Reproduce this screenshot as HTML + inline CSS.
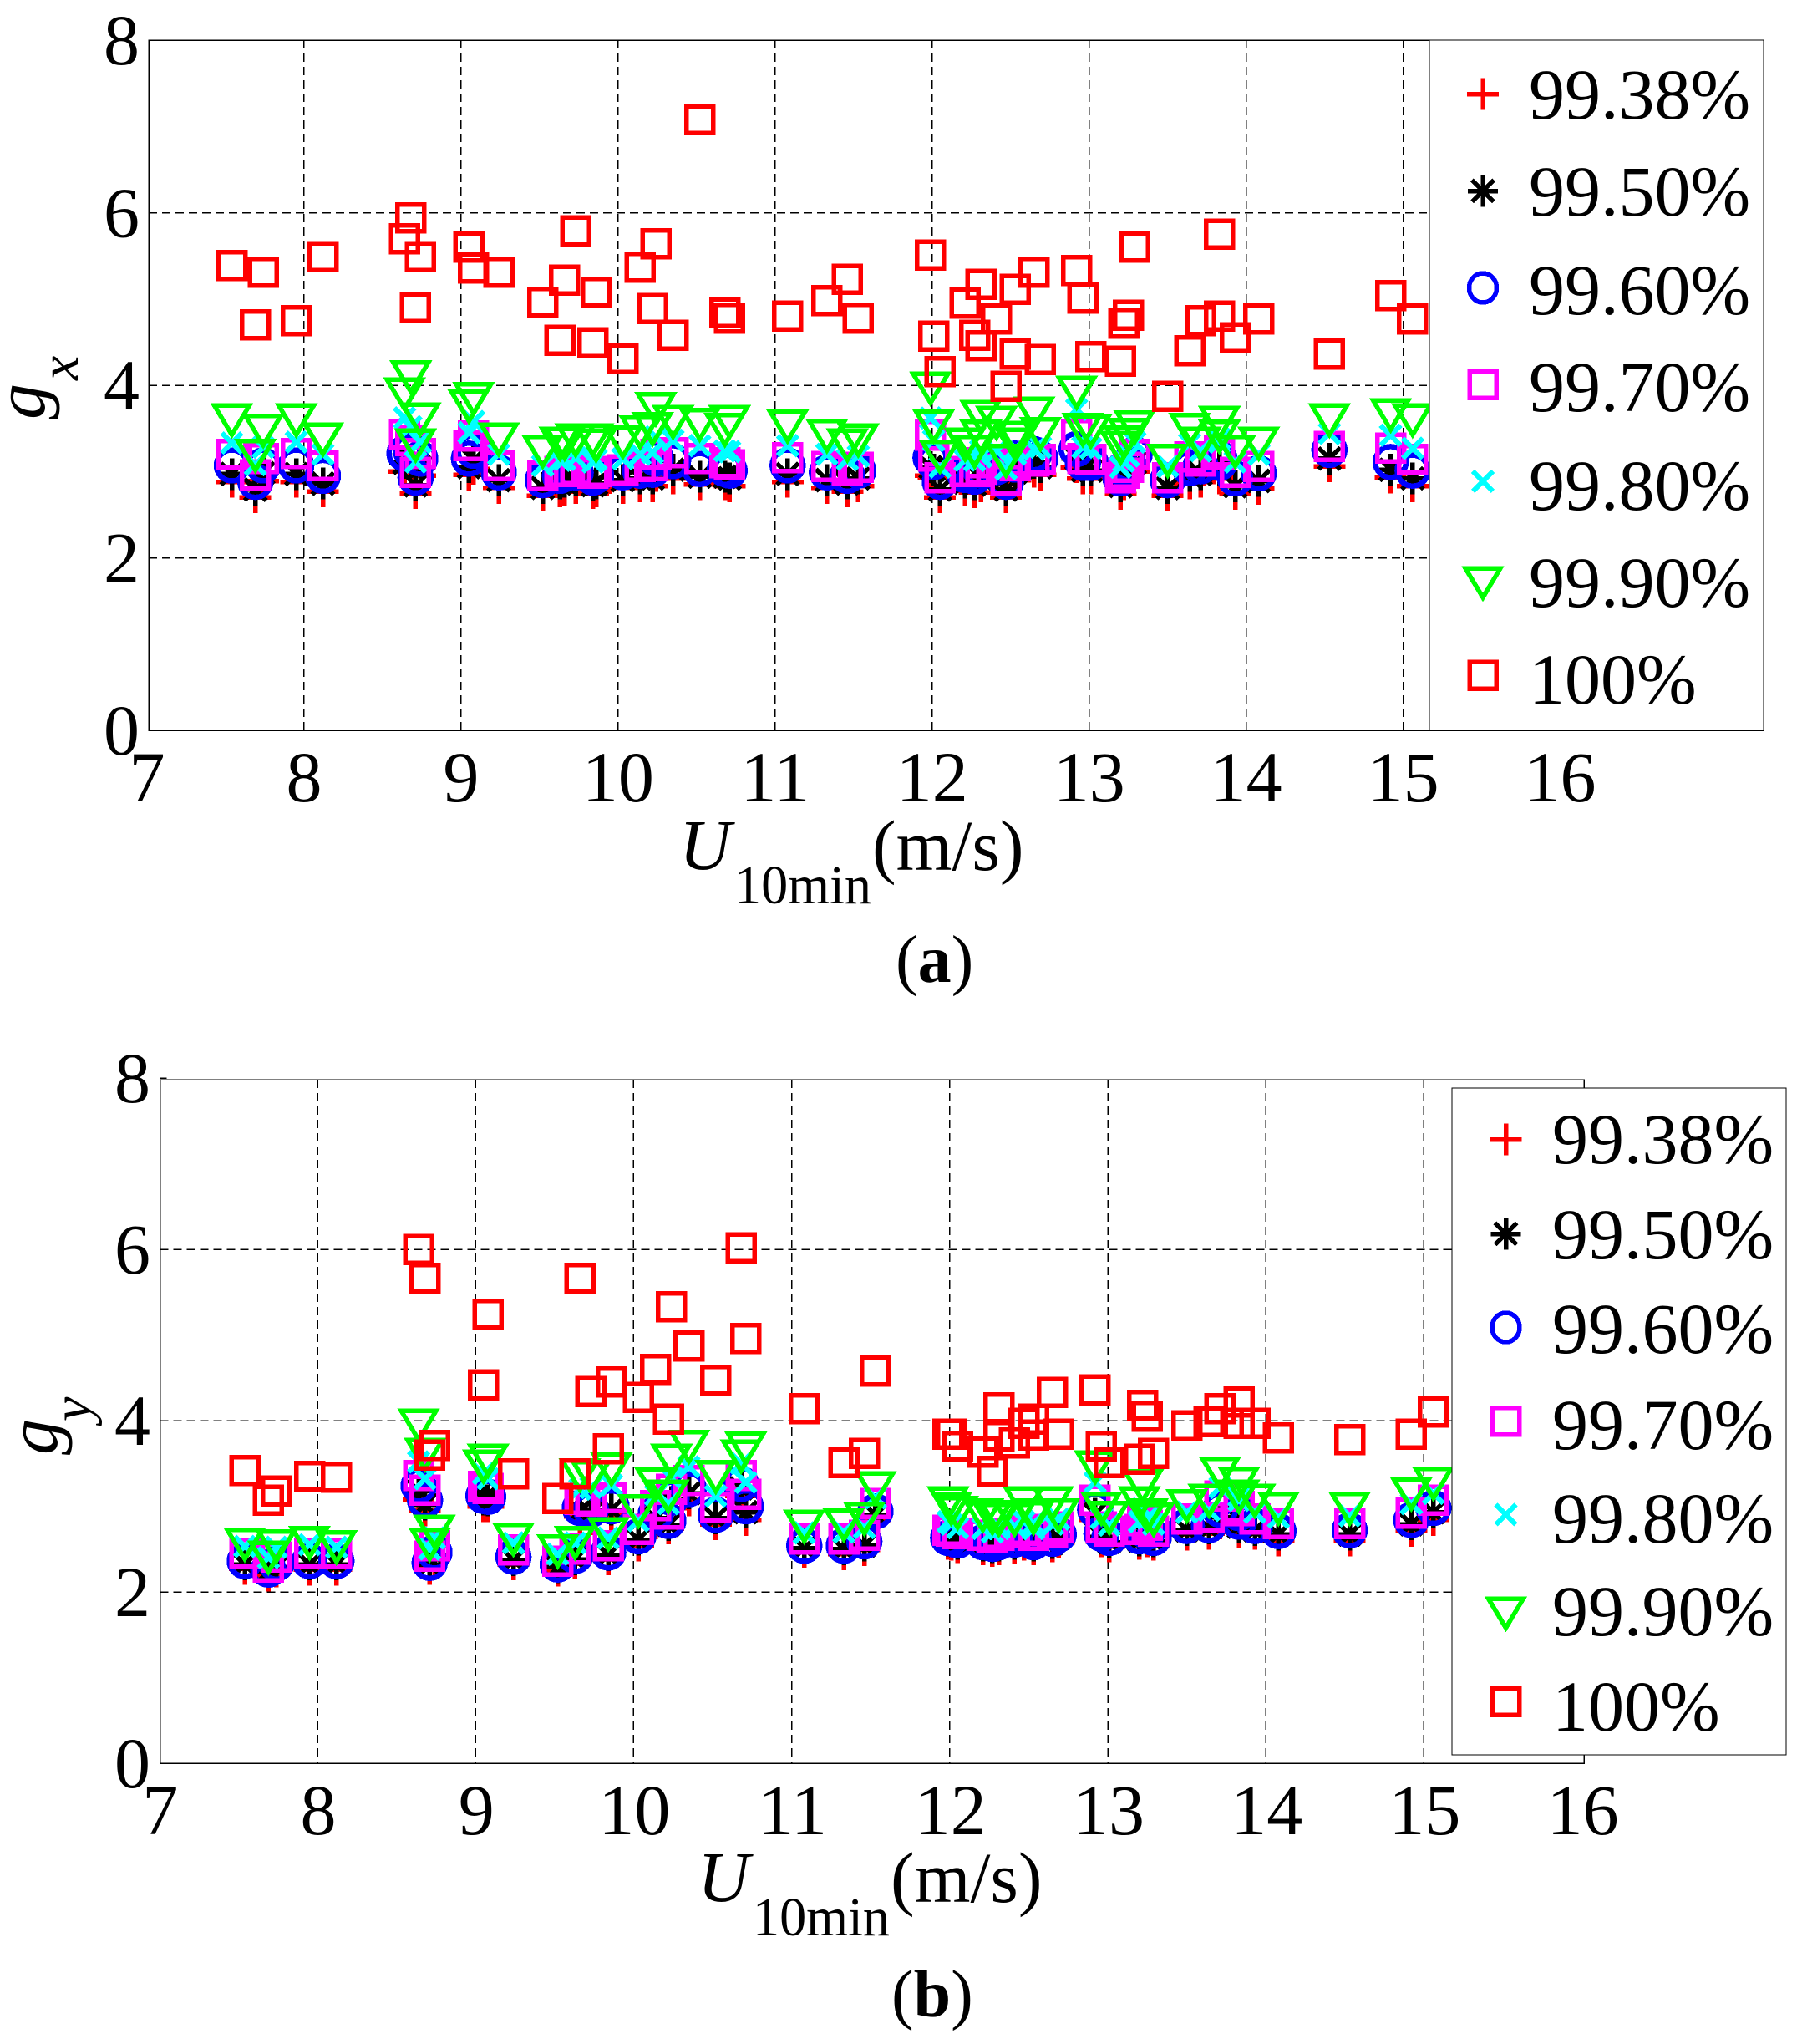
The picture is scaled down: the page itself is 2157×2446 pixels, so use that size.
<!DOCTYPE html>
<html lang="en">
<head>
<meta charset="utf-8">
<title>Gust factor versus 10-minute mean wind speed</title>
<style>
html,body{margin:0;padding:0;background:#fff}
svg{display:block}
text{font-family:"Liberation Serif",serif;fill:#000}
.mark,.grid,.frame{shape-rendering:crispEdges}
</style>
</head>
<body>
<svg id="figure" xmlns="http://www.w3.org/2000/svg" width="2157" height="2446" viewBox="0 0 2157 2446">
  <rect x="0" y="0" width="2157" height="2446" fill="#fff"/>
  <g id="panelA"></g>
  <g id="panelB"></g>

  <g>
    <text transform="translate(53,502) rotate(-90)" font-size="86" font-style="italic">g</text>
    <text transform="translate(93,455) rotate(-90)" font-size="66" font-style="italic">x</text>
  </g>
  <g>
    <text x="813" y="1040" font-size="86" font-style="italic">U</text>
    <text x="879" y="1081" font-size="66" textLength="164" lengthAdjust="spacingAndGlyphs">10min</text>
    <text x="1044" y="1041" font-size="86">(m/s)</text>
  </g>
  <text x="1072" y="1175" font-size="80">(<tspan font-weight="bold">a</tspan>)</text>

  <g>
    <text transform="translate(68,1741) rotate(-90)" font-size="86" font-style="italic">g</text>
    <text transform="translate(108,1701) rotate(-90)" font-size="66" font-style="italic">y</text>
  </g>
  <g>
    <text x="835" y="2275" font-size="86" font-style="italic">U</text>
    <text x="901" y="2316" font-size="66" textLength="164" lengthAdjust="spacingAndGlyphs">10min</text>
    <text x="1066" y="2276" font-size="86">(m/s)</text>
  </g>
  <text x="1067" y="2413" font-size="80">(<tspan font-weight="bold">b</tspan>)</text>
</svg>

<script>
var windSpeeds = [7.54,7.69,7.74,7.95,8.12,8.64,8.68,8.71,8.74,9.05,9.08,9.24,9.52,9.63,9.66,9.73,9.84,9.86,10.03,10.14,10.22,10.24,10.35,10.52,10.68,10.71,11.08,11.33,11.46,11.53,11.99,12.01,12.05,12.21,12.27,12.31,12.31,12.41,12.47,12.53,12.53,12.65,12.69,12.92,12.96,13.01,13.20,13.22,13.25,13.29,13.50,13.64,13.71,13.83,13.83,13.93,14.08,14.53,14.92,15.06];

var gxP9938 = [2.88,2.70,2.89,2.88,2.77,3.00,3.02,2.75,2.95,2.96,3.03,2.81,2.72,2.77,2.79,2.81,2.75,2.77,2.81,2.83,2.83,2.95,2.92,2.85,2.85,2.83,2.88,2.81,2.77,2.83,2.95,2.93,2.70,2.78,2.76,2.83,2.85,2.85,2.70,2.95,2.90,3.00,2.96,3.05,2.92,2.92,2.74,2.85,2.90,3.00,2.72,2.86,2.88,2.96,2.92,2.74,2.80,3.06,2.93,2.83];
var gxP9950 = [2.97,2.79,2.98,2.97,2.86,3.10,3.12,2.84,3.05,3.05,3.13,2.90,2.81,2.86,2.88,2.90,2.84,2.86,2.90,2.92,2.92,3.05,3.02,2.94,2.94,2.92,2.97,2.90,2.86,2.92,3.05,3.02,2.79,2.87,2.85,2.92,2.94,2.95,2.79,3.05,2.99,3.10,3.05,3.15,3.01,3.01,2.83,2.94,2.99,3.10,2.81,2.95,2.97,3.05,3.01,2.83,2.89,3.15,3.02,2.92];
var gxP9960 = [3.07,2.88,3.07,3.07,2.95,3.21,3.24,2.93,3.15,3.15,3.24,2.99,2.90,2.95,2.97,2.99,2.93,2.95,2.99,3.01,3.02,3.15,3.12,3.03,3.03,3.01,3.07,2.99,2.95,3.01,3.16,3.11,2.88,2.96,2.94,3.01,3.03,3.05,2.88,3.15,3.08,3.20,3.15,3.26,3.10,3.10,2.92,3.03,3.08,3.20,2.90,3.04,3.06,3.15,3.10,2.92,2.98,3.25,3.11,3.01];
var gxP9970 = [3.20,2.96,3.15,3.21,3.07,3.43,3.36,2.99,3.21,3.30,3.41,3.07,2.95,3.00,3.00,3.02,2.98,3.00,3.02,3.06,3.07,3.20,3.22,3.15,3.10,3.08,3.16,3.06,3.02,3.05,3.42,3.18,2.93,3.00,3.00,3.03,3.10,3.10,2.90,3.07,3.13,3.12,3.14,3.43,3.15,3.14,2.93,2.98,3.05,3.20,2.93,3.17,3.12,3.24,3.20,2.99,3.06,3.29,3.27,3.14];
var gxP9980 = [3.33,3.08,3.28,3.34,3.20,3.62,3.52,3.11,3.34,3.45,3.58,3.20,3.07,3.13,3.14,3.16,3.11,3.14,3.15,3.20,3.22,3.40,3.36,3.30,3.24,3.23,3.30,3.20,3.14,3.18,3.62,3.36,3.05,3.13,3.13,3.17,3.24,3.24,3.03,3.20,3.27,3.26,3.28,3.72,3.28,3.27,3.05,3.12,3.18,3.34,3.06,3.32,3.24,3.38,3.34,3.11,3.20,3.44,3.42,3.27];
var gxP9990 = [3.60,3.19,3.48,3.60,3.38,3.90,4.10,3.31,3.61,3.76,3.85,3.38,3.24,3.33,3.33,3.37,3.37,3.31,3.35,3.46,3.50,3.73,3.58,3.55,3.49,3.58,3.53,3.42,3.31,3.37,3.97,3.53,3.18,3.32,3.24,3.64,3.41,3.57,3.13,3.40,3.32,3.68,3.44,3.92,3.49,3.47,3.28,3.35,3.43,3.52,3.13,3.49,3.33,3.57,3.41,3.24,3.33,3.60,3.66,3.60];
var gxP100 = [5.39,4.70,5.31,4.75,5.49,5.70,5.94,4.90,5.49,5.60,5.36,5.31,4.96,4.52,5.22,5.79,4.49,5.08,4.31,5.37,4.89,5.64,4.58,7.08,4.84,4.78,4.80,4.98,5.23,4.78,5.51,4.57,4.16,4.95,4.58,4.46,5.17,4.77,3.99,5.11,4.36,5.31,4.30,5.33,5.01,4.33,4.28,4.72,4.81,5.60,3.87,4.40,4.75,4.80,5.75,4.55,4.77,4.36,5.04,4.77];

var gyP9938 = [2.27,2.19,2.24,2.26,2.26,3.08,2.95,2.27,2.38,3.00,3.00,2.32,2.25,2.33,2.88,2.85,2.38,2.90,2.54,2.80,2.74,2.98,3.07,2.79,3.12,2.84,2.47,2.44,2.49,2.84,2.56,2.55,2.52,2.50,2.48,2.52,2.50,2.51,2.55,2.50,2.54,2.53,2.58,2.84,2.59,2.53,2.56,2.63,2.59,2.55,2.67,2.68,2.80,2.70,2.78,2.68,2.60,2.60,2.71,2.84];
var gyP9950 = [2.32,2.24,2.29,2.32,2.32,3.18,3.02,2.32,2.43,3.08,3.07,2.37,2.29,2.38,2.94,2.92,2.43,2.96,2.61,2.86,2.78,3.05,3.15,2.86,3.21,2.93,2.51,2.50,2.54,2.90,2.60,2.59,2.56,2.54,2.52,2.56,2.54,2.56,2.60,2.54,2.59,2.57,2.63,2.91,2.64,2.58,2.60,2.70,2.65,2.59,2.72,2.74,2.87,2.76,2.84,2.72,2.67,2.67,2.79,2.93];
var gyP9960 = [2.36,2.26,2.33,2.36,2.36,3.24,3.07,2.34,2.46,3.12,3.11,2.41,2.32,2.42,2.98,2.96,2.46,3.00,2.65,2.91,2.83,3.10,3.20,2.90,3.26,3.00,2.54,2.54,2.59,2.94,2.63,2.63,2.60,2.58,2.56,2.60,2.58,2.61,2.65,2.58,2.64,2.62,2.67,2.96,2.68,2.63,2.65,2.75,2.70,2.63,2.77,2.78,2.96,2.82,2.92,2.77,2.71,2.72,2.84,2.98];
var gyP9970 = [2.45,2.29,2.41,2.45,2.45,3.36,3.19,2.42,2.54,3.23,3.21,2.49,2.36,2.50,3.08,3.06,2.54,3.10,2.73,3.01,2.91,3.20,3.30,2.99,3.36,3.14,2.62,2.62,2.66,3.03,2.72,2.71,2.68,2.66,2.63,2.68,2.66,2.69,2.73,2.66,2.72,2.70,2.76,3.07,2.76,2.71,2.73,2.83,2.78,2.71,2.85,2.87,3.12,2.95,3.00,2.85,2.80,2.80,2.92,3.07];
var gyP9980 = [2.53,2.40,2.52,2.55,2.52,3.52,3.32,2.50,2.63,3.38,3.32,2.57,2.44,2.57,3.20,3.22,2.63,3.25,2.83,3.13,3.03,3.33,3.46,3.12,3.50,3.28,2.69,2.70,2.75,3.10,2.82,2.79,2.75,2.74,2.70,2.76,2.74,2.77,2.82,2.74,2.80,2.79,2.85,3.28,2.86,2.78,2.82,2.97,2.86,2.79,2.93,2.95,3.22,3.07,3.12,2.93,2.87,2.89,3.03,3.15];
var gyP9990 = [2.56,2.41,2.54,2.58,2.53,3.95,3.61,2.56,2.71,3.47,3.54,2.62,2.48,2.58,3.37,3.35,2.68,3.44,2.95,3.26,3.12,3.54,3.70,3.35,3.59,3.68,2.77,2.79,2.86,3.22,3.04,2.98,2.93,2.90,2.87,2.85,2.88,2.85,3.04,2.90,2.87,3.04,2.90,3.46,2.98,2.87,3.04,3.24,2.90,2.85,3.01,3.07,3.39,3.27,3.12,3.07,2.98,2.98,3.15,3.27];
var gyP100 = [3.42,3.07,3.18,3.35,3.34,6.00,5.66,3.60,3.71,4.42,5.24,3.38,3.09,3.38,5.66,4.34,3.67,4.45,4.27,4.60,4.02,5.33,4.87,4.47,6.02,4.96,4.14,3.51,3.62,4.58,3.84,3.84,3.70,3.63,3.41,4.15,3.82,3.74,3.97,4.02,3.83,4.33,3.84,4.36,3.70,3.51,3.55,4.18,4.05,3.62,3.94,3.99,4.14,4.22,3.97,3.97,3.80,3.78,3.84,4.10];

var xTickLabels = [7,8,9,10,11,12,13,14,15,16];
var yTickLabels = [0,2,4,6,8];
var legendLabels = ['99.38%','99.50%','99.60%','99.70%','99.80%','99.90%','100%'];
var seriesKeys = ['plus','star','circle','magenta','cross','triangle','redsquare'];

var NS = 'http://www.w3.org/2000/svg';

function node(parent, tag, attrs) {
  var el = document.createElementNS(NS, tag);
  for (var k in attrs) { el.setAttribute(k, attrs[k]); }
  parent.appendChild(el);
  return el;
}

function drawMarker(parent, kind, cx, cy, name, inLegend) {
  var g = document.createElementNS(NS, 'g');
  
  
  g.setAttribute('class', 'mark');
  g.setAttribute('transform', 'translate(' + cx.toFixed(1) + ',' + cy.toFixed(1) + ')');
  parent.appendChild(g);
  if (kind === 'plus') {
    node(g, 'path', {d: 'M-19 0H19M0 -19V19', stroke: '#ff0000', 'stroke-width': 5.5, fill: 'none'});
  } else if (kind === 'star') {
    node(g, 'path', {d: 'M-18 0H18M0 -19V19M-13 -13L13 13M-13 13L13 -13', stroke: '#000', 'stroke-width': 5.5, fill: 'none'});
  } else if (kind === 'circle') {
    node(g, 'ellipse', {cx: 0, cy: 0, rx: inLegend ? 16.5 : 18.5, ry: inLegend ? 17.5 : 18.5, stroke: '#0000ff', 'stroke-width': inLegend ? 5.5 : 6.5, fill: 'none'});
  } else if (kind === 'magenta') {
    node(g, 'rect', {x: -16, y: -16, width: 32, height: 32, stroke: '#ff00ff', 'stroke-width': 5.5, fill: 'none'});
  } else if (kind === 'cross') {
    node(g, 'path', {d: 'M-12 -12L12 12M-12 12L12 -12', stroke: '#00ffff', 'stroke-width': 6, fill: 'none'});
  } else if (kind === 'triangle') {
    node(g, 'polygon', {points: '-21,-17 21,-17 0,18', stroke: '#00ff00', 'stroke-width': 5.5, fill: 'none'});
  } else {
    node(g, 'rect', {x: -16, y: -16, width: 32, height: 32, stroke: '#ff0000', 'stroke-width': 5.5, fill: 'none'});
  }
}

function drawPanel(root, p, series, id) {
  function xAxis(v) { return p.x7 + (v - 7) * p.xUnit; }
  function yAxis(v) { return p.y0 - v * p.yUnit; }

  var i, gridLine, tick, label;
  for (i = 1; i < yTickLabels.length - 1; i++) {
    gridLine = document.createElementNS(NS, 'line');
    
    
    gridLine.setAttribute('class', 'grid');
    gridLine.setAttribute('x1', p.left);
    gridLine.setAttribute('x2', p.legendLeft);
    gridLine.setAttribute('y1', yAxis(yTickLabels[i]));
    gridLine.setAttribute('y2', yAxis(yTickLabels[i]));
    gridLine.setAttribute('stroke', '#000');
    gridLine.setAttribute('stroke-width', '1.5');
    gridLine.setAttribute('stroke-dasharray', '10 6');
    root.appendChild(gridLine);
  }
  for (i = 1; i < xTickLabels.length - 1; i++) {
    gridLine = document.createElementNS(NS, 'line');
    
    
    gridLine.setAttribute('class', 'grid');
    gridLine.setAttribute('x1', xAxis(xTickLabels[i]));
    gridLine.setAttribute('x2', xAxis(xTickLabels[i]));
    gridLine.setAttribute('y1', p.top);
    gridLine.setAttribute('y2', p.y0);
    gridLine.setAttribute('stroke', '#000');
    gridLine.setAttribute('stroke-width', '1.5');
    gridLine.setAttribute('stroke-dasharray', '10 6');
    root.appendChild(gridLine);
  }

  var frame = document.createElementNS(NS, 'rect');
  
  
  frame.setAttribute('class', 'frame');
  frame.setAttribute('x', p.left);
  frame.setAttribute('y', p.top);
  frame.setAttribute('width', p.right - p.left);
  frame.setAttribute('height', p.y0 - p.top);
  frame.setAttribute('fill', 'none');
  frame.setAttribute('stroke', '#000');
  frame.setAttribute('stroke-width', '1.5');
  root.appendChild(frame);

  for (i = 0; i < yTickLabels.length; i++) {
    tick = document.createElementNS(NS, 'line');
    
    
    tick.setAttribute('class', 'frame');
    tick.setAttribute('x1', p.left);
    tick.setAttribute('x2', p.left + 8);
    tick.setAttribute('y1', yAxis(yTickLabels[i]));
    tick.setAttribute('y2', yAxis(yTickLabels[i]));
    tick.setAttribute('stroke', '#000');
    tick.setAttribute('stroke-width', '1.5');
    root.appendChild(tick);

    label = document.createElementNS(NS, 'text');
    
    
    label.setAttribute('x', p.yLabelRight);
    label.setAttribute('y', yAxis(yTickLabels[i]) + 29);
    label.setAttribute('font-size', '86');
    label.setAttribute('text-anchor', 'end');
    label.textContent = yTickLabels[i];
    root.appendChild(label);
  }

  for (i = 0; i < xTickLabels.length; i++) {
    label = document.createElementNS(NS, 'text');
    
    
    label.setAttribute('x', xAxis(xTickLabels[i]) + p.xLabelShift);
    label.setAttribute('y', p.y0 + 85);
    label.setAttribute('font-size', '86');
    label.setAttribute('text-anchor', 'middle');
    label.textContent = xTickLabels[i];
    root.appendChild(label);
  }

  var s, j, seriesGroup;
  for (s = 0; s < seriesKeys.length; s++) {
    seriesGroup = document.createElementNS(NS, 'g');
    
    
    root.appendChild(seriesGroup);
    for (j = 0; j < windSpeeds.length; j++) {
      drawMarker(seriesGroup, seriesKeys[s], xAxis(windSpeeds[j]), yAxis(series[s][j]), 'point-' + seriesKeys[s] + '-' + j, false);
    }
  }

  var legend = document.createElementNS(NS, 'g');
  
  
  root.appendChild(legend);

  var legendBox = document.createElementNS(NS, 'rect');
  
  
  legendBox.setAttribute('class', 'frame');
  legendBox.setAttribute('x', p.legendLeft);
  legendBox.setAttribute('y', p.legendTop);
  legendBox.setAttribute('width', p.legendRight - p.legendLeft);
  legendBox.setAttribute('height', p.legendBottom - p.legendTop);
  legendBox.setAttribute('fill', '#fff');
  legendBox.setAttribute('stroke', '#000');
  legendBox.setAttribute('stroke-width', '1.3');
  legend.appendChild(legendBox);

  for (s = 0; s < legendLabels.length; s++) {
    drawMarker(legend, seriesKeys[s], p.legendMarkerX, p.legendMarkerY[s], 'legend-marker-' + seriesKeys[s], true);
    label = document.createElementNS(NS, 'text');
    
    
    label.setAttribute('x', p.legendTextX);
    label.setAttribute('y', p.legendTextY[s]);
    label.setAttribute('font-size', '86');
    label.textContent = legendLabels[s];
    legend.appendChild(label);
  }
}

drawPanel(document.getElementById('panelA'), {
  x7: 176, xUnit: 187.95, y0: 874, yUnit: 103.25,
  left: 178, right: 2111, top: 48, yLabelRight: 167, xLabelShift: 0,
  legendLeft: 1711, legendRight: 2111, legendTop: 48, legendBottom: 874,
  legendMarkerX: 1775, legendTextX: 1830,
  legendMarkerY: [112.5, 228.5, 344.5, 460, 576, 697, 808],
  legendTextY: [142, 258, 376, 492, 610, 726, 842]
}, [gxP9938, gxP9950, gxP9960, gxP9970, gxP9980, gxP9990, gxP100], 'a');

drawPanel(document.getElementById('panelB'), {
  x7: 190.8, xUnit: 189.2, y0: 2110, yUnit: 102.5,
  left: 191.5, right: 1896, top: 1292, yLabelRight: 180, xLabelShift: 1,
  legendLeft: 1738, legendRight: 2138, legendTop: 1302, legendBottom: 2100,
  legendMarkerX: 1802.5, legendTextX: 1858,
  legendMarkerY: [1363.5, 1476.5, 1588.5, 1700.5, 1812.5, 1930, 2036],
  legendTextY: [1392, 1506, 1619, 1734, 1846, 1957, 2071]
}, [gyP9938, gyP9950, gyP9960, gyP9970, gyP9980, gyP9990, gyP100], 'b');
</script>
</body>
</html>
